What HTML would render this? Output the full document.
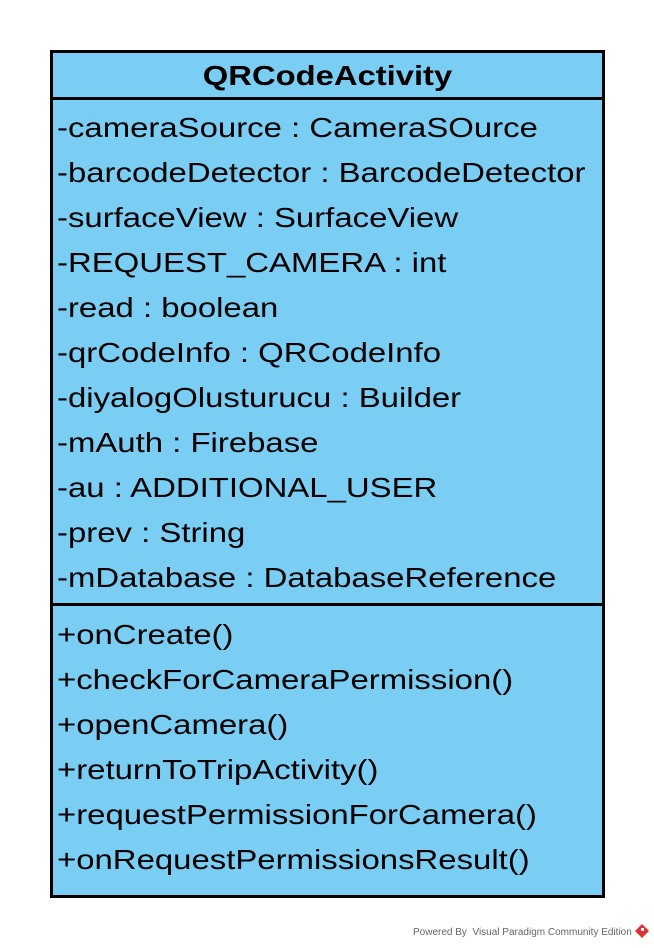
<!DOCTYPE html>
<html><head><style>
body{margin:0;width:654px;height:948px;background:#fff;position:relative;font-family:"Liberation Sans",sans-serif;overflow:hidden}
.box{position:absolute;left:50px;top:50px;width:549px;height:842px;border:3px solid #000;background:#7acef4}
.hline{position:absolute;left:0;right:0;height:3px;background:#000}
.t{position:absolute;left:4px;font-size:28px;line-height:32px;white-space:nowrap;color:#000;transform:scaleX(1.175);transform-origin:0 0}
.title{position:absolute;left:0;right:0;top:7px;text-align:center;font-weight:bold;font-size:28px;line-height:32px;transform:scaleX(1.17)}
.wm{position:absolute;left:413px;top:927px;font-size:10px;color:#666;white-space:nowrap}
</style></head><body>
<div class="box">
<div class="title">QRCodeActivity</div>
<div class="hline" style="top:44px"></div>
<div class="t" style="top:59px">-cameraSource : CameraSOurce</div>
<div class="t" style="top:104px">-barcodeDetector : BarcodeDetector</div>
<div class="t" style="top:149px">-surfaceView : SurfaceView</div>
<div class="t" style="top:194px">-REQUEST_CAMERA : int</div>
<div class="t" style="top:239px">-read : boolean</div>
<div class="t" style="top:284px">-qrCodeInfo : QRCodeInfo</div>
<div class="t" style="top:329px">-diyalogOlusturucu : Builder</div>
<div class="t" style="top:374px">-mAuth : Firebase</div>
<div class="t" style="top:419px">-au : ADDITIONAL_USER</div>
<div class="t" style="top:464px">-prev : String</div>
<div class="t" style="top:509px">-mDatabase : DatabaseReference</div>
<div class="hline" style="top:550px"></div>
<div class="t" style="top:566px">+onCreate()</div>
<div class="t" style="top:611px">+checkForCameraPermission()</div>
<div class="t" style="top:656px">+openCamera()</div>
<div class="t" style="top:701px">+returnToTripActivity()</div>
<div class="t" style="top:746px">+requestPermissionForCamera()</div>
<div class="t" style="top:791px">+onRequestPermissionsResult()</div>
</div>
<div class="wm">Powered By&nbsp; Visual Paradigm Community Edition</div>
<svg style="position:absolute;left:635px;top:924px" width="14" height="14" viewBox="0 0 14 14"><path d="M7 0L14 7L7 14L0 7Z" fill="#d33"/><path d="M6 4h3v3H6z" fill="#fff"/></svg>
</body></html>
